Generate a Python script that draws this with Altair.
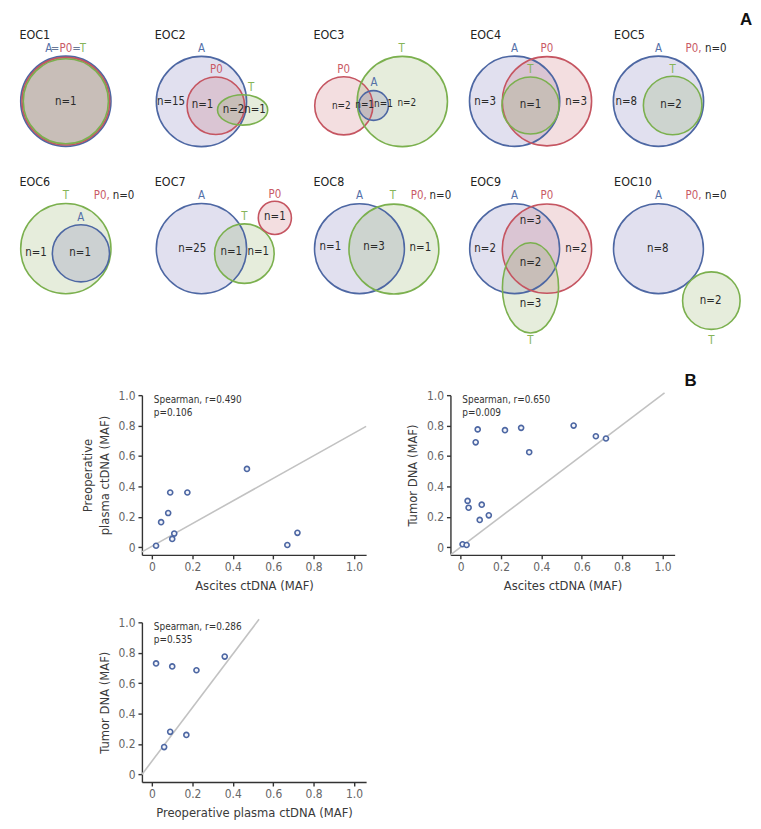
import altair as alt
import pandas as pd

FONT = "'Liberation Sans Narrow', 'Arial Narrow', 'DejaVu Sans Condensed', sans-serif"

# ---------------- Panel A data (Venn diagrams) ----------------
cases = ["EOC1", "EOC2", "EOC3", "EOC4", "EOC5", "EOC6", "EOC7", "EOC8", "EOC9", "EOC10"]
region_counts = {
    "EOC1": [1],
    "EOC2": [15, 1, 2, 1],
    "EOC3": [2, 1, 1, 2],
    "EOC4": [3, 1, 3],
    "EOC5": [8, 2],
    "EOC6": [1, 1],
    "EOC7": [25, 1, 1, 1],
    "EOC8": [1, 3, 1],
    "EOC9": [2, 3, 2, 2, 3],
    "EOC10": [8, 2],
}
empty_sets = {"EOC5": "P0", "EOC6": "P0", "EOC8": "P0", "EOC10": "P0"}

# ---------------- Panel B data (scatter plots) ----------------
ascites_1 = [0.02, 0.045, 0.08, 0.09, 0.10, 0.11, 0.175, 0.47, 0.67, 0.72]
plasma_1 = [0.01, 0.165, 0.225, 0.36, 0.055, 0.09, 0.36, 0.515, 0.015, 0.095]

ascites_2 = [0.01, 0.03, 0.035, 0.04, 0.075, 0.085, 0.095, 0.105, 0.14, 0.22, 0.30, 0.34, 0.56, 0.67, 0.72]
tumor_2 = [0.02, 0.015, 0.305, 0.26, 0.69, 0.775, 0.18, 0.28, 0.21, 0.77, 0.785, 0.625, 0.80, 0.73, 0.715]

plasma_3 = [0.02, 0.06, 0.09, 0.10, 0.17, 0.22, 0.36]
tumor_3 = [0.73, 0.18, 0.28, 0.71, 0.26, 0.685, 0.775]

fit_1 = ([-0.05, 1.06], [-0.03, 0.795])
fit_2 = ([-0.05, 1.01], [-0.05, 1.015])
fit_3 = ([-0.05, 0.53], [0.0, 1.02])

stats = [("0.490", "0.106"), ("0.650", "0.009"), ("0.286", "0.535")]

# ---------------- styling ----------------
STROKE = {"A": "#4d67a3", "P0": "#c55561", "T": "#7bb04e"}
FILL = {"A": "#5f5aaa", "P0": "#c0505a", "T": "#78a046"}
LABEL = {"A": "#5470a8", "P0": "#c95a66", "T": "#86b458", "=": "#6a7896", "k": "#2a2a2a"}

# ---------------- Venn layout (page coordinates) ----------------
title_pos = {
    "EOC1": (16.5, 29), "EOC2": (153, 29), "EOC3": (313, 29), "EOC4": (471, 29), "EOC5": (616, 29),
    "EOC6": (16.5, 177.5), "EOC7": (153, 177.5), "EOC8": (313, 177.5), "EOC9": (471, 177.5), "EOC10": (616, 177.5),
}
# case, set, cx, cy, rx, ry
circles = [
    ("EOC1", "A", 63.3, 95.7, 45.5, 45.5), ("EOC1", "P0", 63.3, 95.7, 44.2, 44.2), ("EOC1", "T", 63.3, 95.7, 42.9, 42.9),
    ("EOC2", "A", 200, 96, 45.5, 45.5), ("EOC2", "P0", 214.5, 100.3, 29, 29), ("EOC2", "T", 241.5, 104.5, 25.3, 15.3),
    ("EOC3", "P0", 343.5, 100.3, 29.3, 29.3), ("EOC3", "T", 402.5, 96, 45.5, 45.5), ("EOC3", "A", 373.5, 100, 15, 15),
    ("EOC4", "A", 515.7, 95.7, 45.5, 45.5), ("EOC4", "P0", 548.3, 95.7, 45, 45), ("EOC4", "T", 531.7, 100, 28.8, 28.8),
    ("EOC5", "A", 660.7, 95.7, 45.5, 45.5), ("EOC5", "T", 675, 100, 29.5, 29.5),
    ("EOC6", "T", 63.3, 244.3, 45.5, 45.5), ("EOC6", "A", 78.5, 249, 28.8, 28.8),
    ("EOC7", "A", 200, 244.3, 45.5, 45.5), ("EOC7", "T", 243.3, 249.3, 30, 30), ("EOC7", "P0", 274, 213.3, 16.7, 16.7),
    ("EOC8", "A", 359.3, 244.3, 45.3, 45.3), ("EOC8", "T", 394, 244.7, 45.3, 45.3),
    ("EOC9", "A", 515.7, 244.3, 45.3, 45.3), ("EOC9", "P0", 548.3, 244.3, 45, 45), ("EOC9", "T", 531.7, 283.8, 28.3, 45.5),
    ("EOC10", "A", 660.7, 244.3, 45.3, 45.3), ("EOC10", "T", 714, 296.7, 29, 29),
]
count_pos = {
    "EOC1": [(63.3, 97)],
    "EOC2": [(169.3, 96.7), (201, 100), (232.3, 105), (254, 105)],
    "EOC3": [(341, 100.7), (364.5, 100), (383.5, 99), (407, 97.3)],
    "EOC4": [(486, 96.7), (531.7, 100), (577.7, 96.7)],
    "EOC5": [(628.3, 96.7), (673.3, 100)],
    "EOC6": [(33.3, 249), (77.7, 249)],
    "EOC7": [(190.7, 245), (230, 247.3), (257.3, 247.3), (274, 212.7)],
    "EOC8": [(330, 242.7), (374, 243), (420.7, 243.3)],
    "EOC9": [(486, 244.3), (531.7, 216), (577.7, 244.3), (531.7, 258.3), (531.7, 300)],
    "EOC10": [(660, 244.3), (713.3, 296.7)],
}
count_size = {"EOC3": 10}
# text, colour key, x, y (centred)
set_labels = [
    ("A", "A", 46, 43), ("=", "=", 52.5, 43), ("P0", "P0", 63.3, 43), ("=", "=", 74, 43), ("T", "T", 80.5, 43),
    ("A", "A", 200, 43), ("P0", "P0", 215, 64), ("T", "T", 250, 82.7),
    ("P0", "P0", 343.3, 64.3), ("A", "A", 374, 77.7), ("T", "T", 401.7, 43),
    ("A", "A", 515.7, 43), ("P0", "P0", 548.3, 43), ("T", "T", 531.7, 64.3),
    ("A", "A", 660.7, 43), ("T", "T", 675, 64.3),
    ("T", "T", 63.3, 191.7), ("A", "A", 78.3, 213.3),
    ("A", "A", 200, 191.7), ("T", "T", 243.3, 212.7), ("P0", "P0", 274, 190),
    ("A", "A", 359.3, 191.7), ("T", "T", 393, 191.7),
    ("A", "A", 515.7, 191.7), ("P0", "P0", 548.3, 191.7), ("T", "T", 531.7, 337),
    ("A", "A", 660.7, 191.7), ("T", "T", 714, 337),
]
empty_pos = {"EOC5": (688, 707.5, 43), "EOC6": (91.5, 110.5, 191.7), "EOC8": (411, 430, 191.7), "EOC10": (688, 707.5, 191.7)}

K = 0.5523


def ellipse_path(a, b):
    return (f"M {a} 0 C {a} {K*b} {K*a} {b} 0 {b} C {-K*a} {b} {-a} {K*b} {-a} 0 "
            f"C {-a} {-K*b} {-K*a} {-b} 0 {-b} C {K*a} {-b} {a} {-K*b} {a} 0 Z")


circ_rows = []
for case, s, cx, cy, rx, ry in circles:
    m = max(rx, ry)
    shape = "circle" if rx == ry else ellipse_path(rx / m, ry / m)
    circ_rows.append({"x": cx, "y": cy, "shape": shape, "size": (2 * m) ** 2,
                      "fillc": FILL[s], "strokec": STROKE[s]})
circ_df = pd.DataFrame(circ_rows)

center_rows, left_rows = [], []
for c in cases:
    for n, (x, y) in zip(region_counts[c], count_pos[c]):
        center_rows.append({"x": x, "y": y, "t": f"n={n}", "c": LABEL["k"], "fs": count_size.get(c, 11.5)})
for t, ck, x, y in set_labels:
    center_rows.append({"x": x, "y": y, "t": t, "c": LABEL[ck], "fs": 11.5})
for c, s in empty_sets.items():
    x1, x2, y = empty_pos[c]
    left_rows.append({"x": x1, "y": y, "t": f"{s},", "c": LABEL[s], "fs": 11.5})
    left_rows.append({"x": x2, "y": y, "t": "n=0", "c": LABEL["k"], "fs": 11.5})
for c in cases:
    x, y = title_pos[c]
    left_rows.append({"x": x, "y": y, "t": c, "c": "#222222", "fs": 12.5})

bold_df = pd.DataFrame([{"x": 749, "y": 14, "t": "A"}, {"x": 693, "y": 378, "t": "B"}])

VX = alt.X("x:Q", scale=alt.Scale(domain=[8, 753], nice=False, zero=False), axis=None)
VY = alt.Y("y:Q", scale=alt.Scale(domain=[8, 324], nice=False, zero=False, reverse=True), axis=None)

fills = alt.Chart(circ_df).mark_point(filled=True, opacity=1, fillOpacity=0.19, strokeWidth=0).encode(
    VX, VY, shape=alt.Shape("shape:N", scale=None), size=alt.Size("size:Q", scale=None),
    color=alt.Color("fillc:N", scale=None))
strokes = alt.Chart(circ_df).mark_point(filled=False, opacity=1, strokeWidth=1.6).encode(
    VX, VY, shape=alt.Shape("shape:N", scale=None), size=alt.Size("size:Q", scale=None),
    color=alt.Color("strokec:N", scale=None))
ctext = alt.Chart(pd.DataFrame(center_rows)).mark_text(align="center", baseline="middle").encode(
    VX, VY, text="t:N", color=alt.Color("c:N", scale=None), size=alt.Size("fs:Q", scale=None))
ltext = alt.Chart(pd.DataFrame(left_rows)).mark_text(align="left", baseline="middle").encode(
    VX, VY, text="t:N", color=alt.Color("c:N", scale=None), size=alt.Size("fs:Q", scale=None))
btext = alt.Chart(bold_df).mark_text(align="center", baseline="middle", fontWeight="bold",
                                     fontSize=17, color="#111111", font="Liberation Sans").encode(VX, VY, text="t:N")

venn = alt.layer(fills, strokes, ctext, ltext, btext).properties(width=745, height=316)

# ---------------- scatter plots ----------------
TICKS = [0, 0.2, 0.4, 0.6, 0.8, 1.0]
LBL = "datum.value == 0 ? '0' : format(datum.value, '.1f')"


def scatter(xs, ys, fit, xtitle, ytitle, st):
    xsc = alt.Scale(domain=[-0.05, 1.06], nice=False, zero=False)
    ysc = alt.Scale(domain=[-0.05, 1.0], nice=False, zero=False)
    xax = alt.Axis(title=xtitle, values=TICKS, labelExpr=LBL)
    yax = alt.Axis(title=ytitle, values=TICKS, labelExpr=LBL, titleLineHeight=17)
    X = alt.X("x:Q", scale=xsc, axis=xax)
    Y = alt.Y("y:Q", scale=ysc, axis=yax)
    line = alt.Chart(pd.DataFrame({"x": fit[0], "y": fit[1]})).mark_line(
        color="#c2c2c2", strokeWidth=1.6).encode(X, Y)
    pts = alt.Chart(pd.DataFrame({"x": xs, "y": ys})).mark_point(
        shape="circle", filled=True, fill="#f4f5fa", stroke="#4d67a3", strokeWidth=1.6,
        size=26, opacity=1).encode(X, Y)
    t1 = alt.Chart(pd.DataFrame({"t": [f"Spearman, r={st[0]}"]})).mark_text(
        align="left", baseline="middle", fontSize=10, color="#333333").encode(
        text="t:N", x=alt.value(12), y=alt.value(4.5))
    t2 = alt.Chart(pd.DataFrame({"t": [f"p={st[1]}"]})).mark_text(
        align="left", baseline="middle", fontSize=10, color="#333333").encode(
        text="t:N", x=alt.value(12), y=alt.value(18))
    return alt.layer(line, pts, t1, t2).properties(width=226, height=161)


def spacer():
    return alt.Chart(pd.DataFrame({"v": [0]})).mark_point(opacity=0).encode(
        x=alt.value(0), y=alt.value(0)).properties(width=47, height=161)


s1 = scatter(ascites_1, plasma_1, fit_1, "Ascites ctDNA (MAF)",
             ["Preoperative", "plasma ctDNA (MAF)"], stats[0])
s2 = scatter(ascites_2, tumor_2, fit_2, "Ascites ctDNA (MAF)", "Tumor DNA (MAF)", stats[1])
s3 = scatter(plasma_3, tumor_3, fit_3, "Preoperative plasma ctDNA (MAF)", "Tumor DNA (MAF)", stats[2])

grid = alt.concat(spacer(), s1, s2, spacer(), s3, columns=3,
                  spacing={"row": 68, "column": 85}, bounds="flush")

chart = alt.vconcat(venn, grid, spacing=68, bounds="flush").properties(
    padding=0
).configure(font=FONT).configure_view(stroke=None).configure_axis(
    grid=False, domainColor="#333333", domainWidth=1.4, tickColor="#333333", tickWidth=1.4,
    tickSize=4, labelColor="#666666", labelFontSize=12, labelFont=FONT, labelPadding=3,
    titleFont=FONT, titleFontSize=13, titleFontWeight="normal", titleColor="#3a3a3a",
    titlePadding=7
)

chart.save("out.html", embed_options={"renderer": "svg", "actions": False})
